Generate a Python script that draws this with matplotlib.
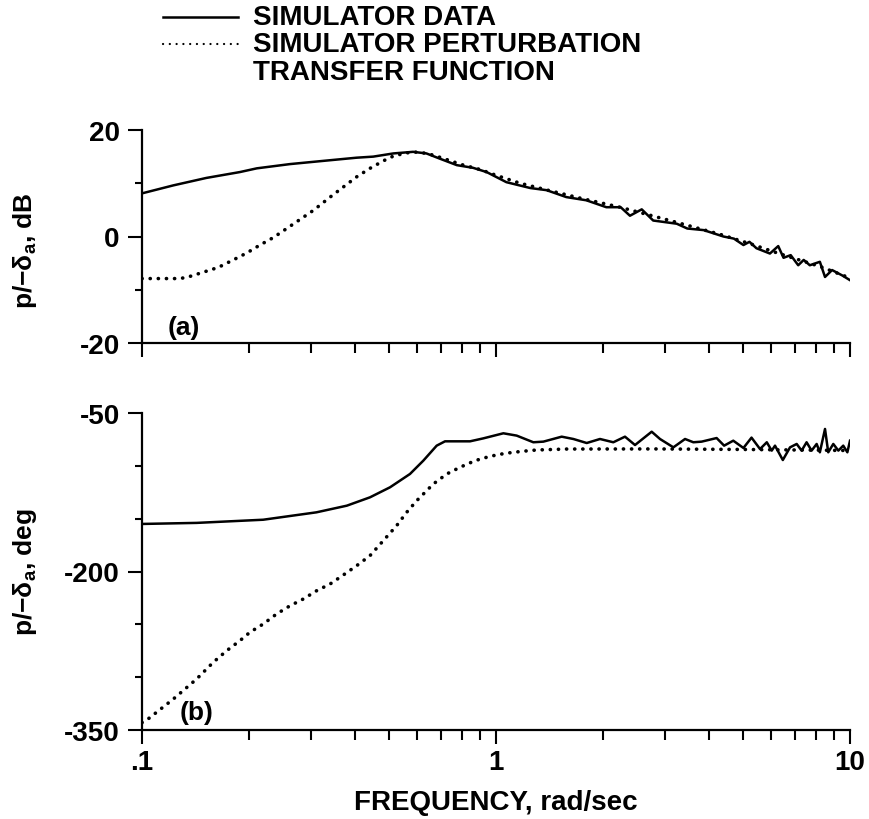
import matplotlib
matplotlib.use("Agg")
import matplotlib.pyplot as plt
from matplotlib.lines import Line2D
from matplotlib.ticker import FixedLocator, LogLocator, NullFormatter, FuncFormatter

plt.rcParams['font.family'] = ['Liberation Sans', 'DejaVu Sans']
plt.rcParams['font.weight'] = 'bold'
plt.rcParams['axes.unicode_minus'] = False
plt.rcParams['mathtext.fontset'] = 'custom'
plt.rcParams['mathtext.rm'] = 'Liberation Sans:bold'
plt.rcParams['mathtext.it'] = 'Liberation Sans:bold'
plt.rcParams['mathtext.bf'] = 'Liberation Sans:bold'
plt.rcParams['mathtext.default'] = 'rm'

# (a) magnitude, dB
mag_sim_f = [0.1, 0.1226, 0.152, 0.189, 0.211, 0.262, 0.325, 0.404, 0.45, 0.513, 0.583,
             0.636, 0.695, 0.775, 0.861, 0.941, 1.07, 1.25, 1.39, 1.58, 1.80, 2.05, 2.25,
             2.39, 2.58, 2.78, 3.24, 3.47, 3.86, 4.39, 4.7, 5.0, 5.2, 5.44, 5.94, 6.27,
             6.49, 6.8, 7.14, 7.4, 7.7, 8.22, 8.5, 8.9, 9.5, 10.0]
mag_sim = [8.1, 9.6, 11.0, 12.1, 12.8, 13.6, 14.2, 14.8, 15.0, 15.6, 15.9,
           15.6, 14.6, 13.4, 12.9, 12.1, 10.2, 9.1, 8.7, 7.4, 6.8, 5.5, 5.5,
           3.9, 5.1, 3.0, 2.4, 1.5, 1.2, 0.0, -0.4, -1.6, -1.0, -2.2, -3.2, -1.8,
           -4.0, -3.5, -5.4, -4.4, -5.4, -4.75, -7.6, -6.3, -7.3, -8.2]

mag_tf_f = [0.1, 0.1161, 0.128, 0.135, 0.1458, 0.1643, 0.181, 0.1976, 0.2154, 0.235,
            0.2563, 0.2795, 0.3048, 0.34, 0.3705, 0.404, 0.4406, 0.4805, 0.513, 0.55,
            0.583, 0.64, 0.7, 0.8, 0.9, 1.0, 1.17, 1.4, 1.73, 2.24, 3.1, 4.3, 5.3, 6.3,
            8.2, 10.0]
mag_tf = [-7.9, -7.9, -7.9, -7.6, -6.9, -5.8, -4.4, -3.1, -1.6, -0.2,
          1.5, 3.2, 4.9, 7.4, 9.3, 11.2, 12.8, 14.2, 15.1, 15.6,
          15.9, 15.6, 14.8, 13.5, 12.6, 11.5, 10.0, 8.7, 7.2, 5.5, 3.0, 0.4, -1.5, -3.2,
          -5.6, -7.8]

# (b) phase, deg
ph_sim_f = [0.1, 0.1427, 0.22, 0.311, 0.379, 0.4406, 0.502, 0.5715, 0.6233, 0.6799,
            0.7178, 0.8446, 0.921, 1.049, 1.144, 1.275, 1.361, 1.533, 1.654, 1.804,
            1.967, 2.145, 2.314, 2.47, 2.753, 2.906, 3.17, 3.42, 3.61, 3.81, 4.20, 4.41,
            4.68, 5.0, 5.27, 5.57, 5.82, 6.01, 6.14, 6.46, 6.77, 7.07, 7.30, 7.54, 7.79,
            8.05, 8.22, 8.50, 8.68, 8.97, 9.27, 9.57, 9.83, 10.0]
ph_sim = [-155, -154, -151, -144, -137.7, -129.8, -120.3, -107.7, -95.1, -80.9,
          -76.8, -76.8, -74.0, -69.2, -71.4, -77.7, -77.1, -72.4, -74.6, -78.4,
          -74.6, -77.7, -72.4, -80.3, -67.7, -74.6, -82.5, -74.6, -77.7, -77.1, -73.7, -80.9,
          -76.2, -83.1, -73.3, -84.1, -77.7, -85.6, -80.9, -94.5, -82.5, -79.3, -85.6, -77.7,
          -85.6, -79.3, -87.2, -65.1, -87.2, -79.3, -85.6, -80.9, -87.2, -76.2]

ph_tf_f = [0.1, 0.104, 0.1226, 0.1427, 0.159, 0.1734, 0.189, 0.2018, 0.22, 0.24, 0.262,
           0.2856, 0.3114, 0.34, 0.3705, 0.404, 0.4406, 0.4805, 0.524, 0.5593, 0.597,
           0.617, 0.665, 0.726, 0.791, 0.8724, 0.962, 1.06, 1.182, 1.303, 1.585, 2.8,
           5.0, 10.0]
ph_tf = [-343, -339.6, -320.7, -301.7, -285.9, -275, -265.5, -257.5, -249.7, -240.2, -232.4,
         -226, -218.2, -211.8, -203.3, -194.5, -185, -170.8, -156.6, -144, -133,
         -128.2, -117.2, -107.7, -101.4, -95.1, -91, -88.2, -86.3, -85, -84.1, -84,
         -84.5, -85.5]

fig = plt.figure(figsize=(8.7, 8.2), dpi=100)
ax1 = fig.add_axes([142 / 870, 1 - 344 / 820, 708 / 870, 213 / 820])
ax2 = fig.add_axes([142 / 870, 1 - 731 / 820, 708 / 870, 317 / 820])

dot_style = (0, (0.05, 2.2))
for ax in (ax1, ax2):
    ax.set_xscale('log')
    ax.set_xlim(0.1, 10)
    for s in ('top', 'right'):
        ax.spines[s].set_visible(False)
    for s in ('left', 'bottom'):
        ax.spines[s].set_linewidth(1.6)
    ax.xaxis.set_major_locator(FixedLocator([0.1, 1, 10]))
    ax.xaxis.set_minor_locator(LogLocator(base=10, subs=range(2, 10)))
    ax.xaxis.set_minor_formatter(NullFormatter())
    ax.tick_params(axis='both', which='major', direction='out', length=10, width=1.5,
                   labelsize=20, pad=4)
    ax.tick_params(axis='y', which='major', pad=6)
    ax.tick_params(axis='x', which='minor', direction='out', length=7, width=1.5)
    ax.tick_params(axis='y', which='minor', direction='out', length=5, width=1.5)

ax1.plot(mag_sim_f, mag_sim, color='black', lw=1.8)
ax1.plot(mag_tf_f, mag_tf, color='black', lw=2.6, linestyle=dot_style,
         dash_capstyle='round')
ax1.set_ylim(-20, 20)
ax1.yaxis.set_major_locator(FixedLocator([-20, 0, 20]))
ax1.yaxis.set_minor_locator(FixedLocator([-10, 10]))
ax1.xaxis.set_major_formatter(NullFormatter())
ax1.set_ylabel('p/\u2212δ$_{a}$, dB', fontsize=19, fontweight='bold')
ax1.yaxis.set_label_coords(-0.145, 0.44)
ax1.text(0.118, -17, '(a)', fontsize=19, fontweight='bold', va='center')

ax2.plot(ph_sim_f, ph_sim, color='black', lw=1.8)
ax2.plot(ph_tf_f, ph_tf, color='black', lw=2.6, linestyle=dot_style,
         dash_capstyle='round')
ax2.set_ylim(-350, -50)
ax2.yaxis.set_major_locator(FixedLocator([-350, -200, -50]))
ax2.yaxis.set_minor_locator(FixedLocator([-300, -250, -150, -100]))
xlabels = {0.1: '.1', 1: '1', 10: '10'}
ax2.xaxis.set_major_formatter(FuncFormatter(lambda v, p: xlabels.get(round(v, 3), '')))
ax2.set_ylabel('p/\u2212δ$_{a}$, deg', fontsize=19, fontweight='bold')
ax2.yaxis.set_label_coords(-0.145, 0.5)
ax2.set_xlabel('FREQUENCY, rad/sec', fontsize=20, fontweight='bold')
ax2.xaxis.set_label_coords(0.5, -0.185)
ax2.text(0.128, -333, '(b)', fontsize=19, fontweight='bold', va='center')

# legend drawn at the top of the figure
y1 = 1 - 18 / 820
y2 = 1 - 45 / 820
fig.add_artist(Line2D([163 / 870, 238 / 870], [y1, y1], color='black', lw=1.8,
                      transform=fig.transFigure))
fig.add_artist(Line2D([163 / 870, 238 / 870], [y2, y2], color='black', lw=1.6,
                      linestyle=(0, (0.05, 3.0)), dash_capstyle='round',
                      transform=fig.transFigure))
fig.text(253 / 870, y1, 'SIMULATOR DATA', fontsize=20, fontweight='bold', va='center')
fig.text(253 / 870, y2, 'SIMULATOR PERTURBATION', fontsize=20, fontweight='bold',
         va='center')
fig.text(253 / 870, 1 - 73 / 820, 'TRANSFER FUNCTION', fontsize=20, fontweight='bold',
         va='center')

fig.savefig('out.png', dpi=100)
